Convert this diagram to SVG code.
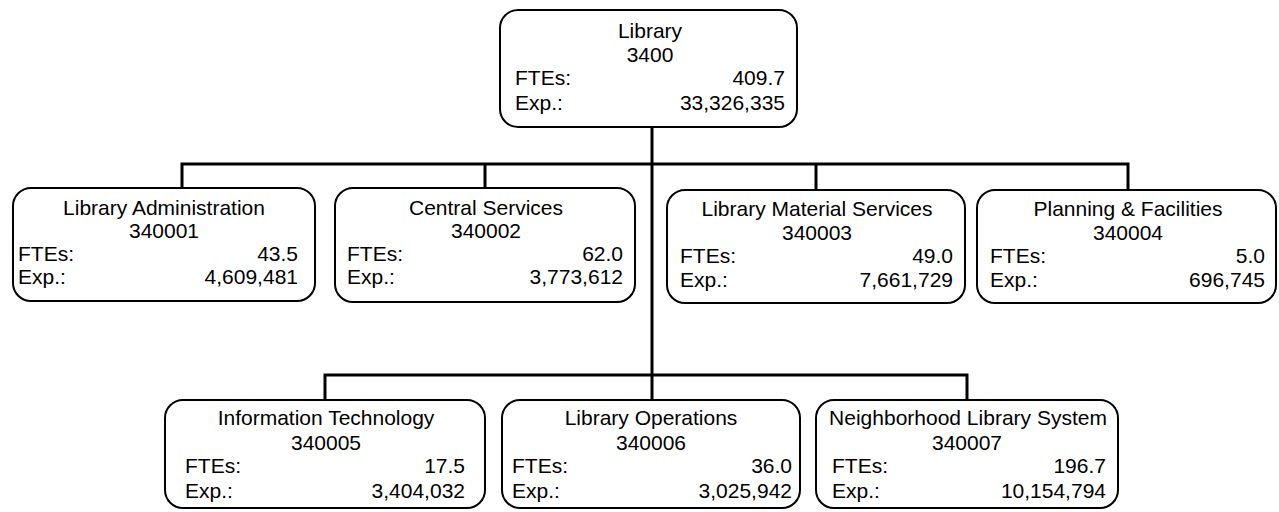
<svg xmlns="http://www.w3.org/2000/svg" width="1279" height="512" viewBox="0 0 1279 512">
<style>
.box{fill:#fff;stroke:#000;stroke-width:2}
.conn{fill:none;stroke:#000;stroke-width:3}
text{font-family:"Liberation Sans",Arial,sans-serif;font-size:21px;fill:#000}
.c{text-anchor:middle}
.r{text-anchor:end}
</style>
<rect width="1279" height="512" fill="#fff"/>
<g id="connectors">
<path class="conn" d="M652 127V400"/>
<path class="conn" d="M182 188V164H1128V190"/>
<path class="conn" d="M485 164V188"/>
<path class="conn" d="M816 164V190"/>
<path class="conn" d="M325 400V375H967V400"/>
</g>
<g id="n3400">
<rect class="box" x="500" y="10" width="297" height="117" rx="18"/>
<text class="c" x="650" y="38">Library</text>
<text class="c" x="650" y="62">3400</text>
<text x="515" y="85">FTEs:</text><text class="r" x="785" y="85">409.7</text>
<text x="515" y="110">Exp.:</text><text class="r" x="785" y="110">33,326,335</text>
</g>
<g id="n340001">
<rect class="box" x="13" y="188" width="302" height="113" rx="18"/>
<text class="c" x="164" y="215">Library Administration</text>
<text class="c" x="164" y="238">340001</text>
<text x="18" y="261">FTEs:</text><text class="r" x="298" y="261">43.5</text>
<text x="18" y="284">Exp.:</text><text class="r" x="298" y="284">4,609,481</text>
</g>
<g id="n340002">
<rect class="box" x="335" y="188" width="300" height="114" rx="18"/>
<text class="c" x="486" y="215">Central Services</text>
<text class="c" x="486" y="238">340002</text>
<text x="347" y="261">FTEs:</text><text class="r" x="623" y="261">62.0</text>
<text x="347" y="284">Exp.:</text><text class="r" x="623" y="284">3,773,612</text>
</g>
<g id="n340003">
<rect class="box" x="667" y="190" width="298" height="113" rx="18"/>
<text class="c" x="817" y="216">Library Material Services</text>
<text class="c" x="817" y="240">340003</text>
<text x="680" y="263">FTEs:</text><text class="r" x="953" y="263">49.0</text>
<text x="680" y="287">Exp.:</text><text class="r" x="953" y="287">7,661,729</text>
</g>
<g id="n340004">
<rect class="box" x="977" y="190" width="299" height="113" rx="18"/>
<text class="c" x="1128" y="216">Planning &amp; Facilities</text>
<text class="c" x="1128" y="240">340004</text>
<text x="990" y="263">FTEs:</text><text class="r" x="1265" y="263">5.0</text>
<text x="990" y="287">Exp.:</text><text class="r" x="1265" y="287">696,745</text>
</g>
<g id="n340005">
<rect class="box" x="165" y="400" width="320" height="108" rx="18"/>
<text class="c" x="326" y="425">Information Technology</text>
<text class="c" x="326" y="450">340005</text>
<text x="185" y="473">FTEs:</text><text class="r" x="465" y="473">17.5</text>
<text x="185" y="498">Exp.:</text><text class="r" x="465" y="498">3,404,032</text>
</g>
<g id="n340006">
<rect class="box" x="502" y="400" width="298" height="108" rx="18"/>
<text class="c" x="651" y="425">Library Operations</text>
<text class="c" x="651" y="450">340006</text>
<text x="512" y="473">FTEs:</text><text class="r" x="792" y="473">36.0</text>
<text x="512" y="498">Exp.:</text><text class="r" x="792" y="498">3,025,942</text>
</g>
<g id="n340007">
<rect class="box" x="816" y="400" width="302" height="108" rx="18"/>
<text class="c" x="968" y="425">Neighborhood Library System</text>
<text class="c" x="967" y="450">340007</text>
<text x="832" y="473">FTEs:</text><text class="r" x="1106" y="473">196.7</text>
<text x="832" y="498">Exp.:</text><text class="r" x="1106" y="498">10,154,794</text>
</g>
</svg>
